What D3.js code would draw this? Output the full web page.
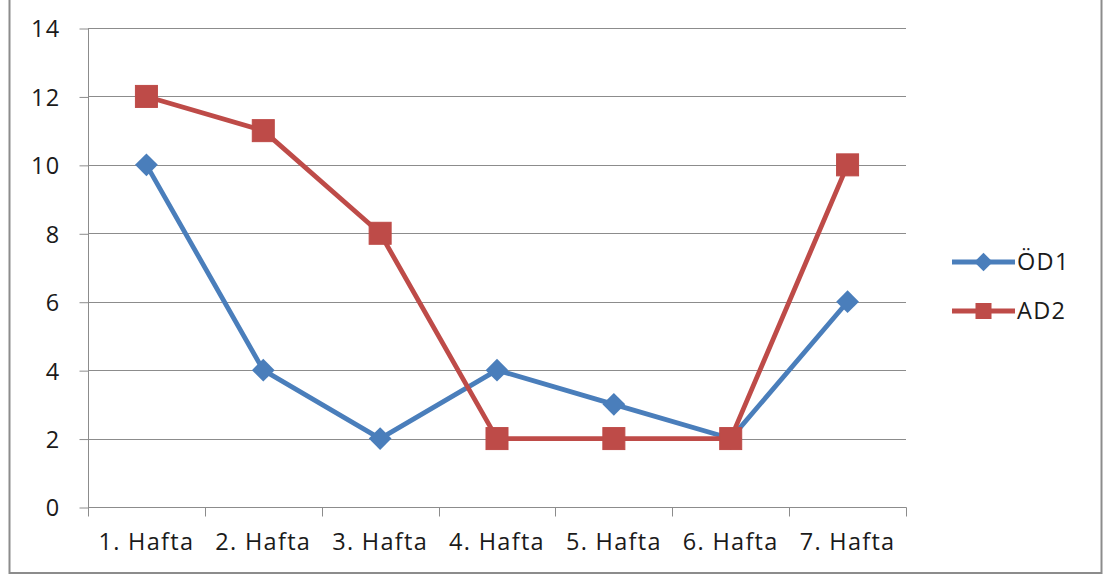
<!DOCTYPE html>
<html>
<head>
<meta charset="utf-8">
<script src="https://cdn.jsdelivr.net/npm/d3@7"></script>
<style>
  html, body { margin: 0; padding: 0; background: #fff; }
  svg { display: block; }
  text { font-family: "Open Sans", "Noto Sans", sans-serif; fill: #1a1a1a; }
</style>
</head>
<body>
<svg id="chart" width="1105" height="575"></svg>
<script>
const categories = ["1. Hafta", "2. Hafta", "3. Hafta", "4. Hafta", "5. Hafta", "6. Hafta", "7. Hafta"];
const od1 = [10, 4, 2, 4, 3, 2, 6];
const ad2 = [12, 11, 8, 2, 2, 2, 10];
const yTicks = [0, 2, 4, 6, 8, 10, 12, 14];
const seriesNames = ["ÖD1", "AD2"];
const seriesColors = ["#4A7EBB", "#BE4B48"];

const FONT_SIZE = "23.5px";
const LETTER_SPACING = "1.3px";

const svg = d3.select("#chart");

// outer frame
svg.append("rect")
  .attr("x", 9.5).attr("y", -2).attr("width", 1092).attr("height", 575)
  .attr("fill", "none").attr("stroke", "#8c8c8c").attr("stroke-width", 2);

const plot = { left: 88, right: 906, top: 28, bottom: 507 };

const x = d3.scaleBand().domain(categories).range([plot.left, plot.right]);
const y = d3.scaleLinear().domain([0, 14]).range([plot.bottom, plot.top]);

// horizontal gridlines
svg.append("g").selectAll("line").data(yTicks.filter(d => d > 0)).join("line")
  .attr("x1", plot.left).attr("x2", plot.right)
  .attr("y1", d => Math.round(y(d)) + 0.5).attr("y2", d => Math.round(y(d)) + 0.5)
  .attr("stroke", "#8c8c8c").attr("stroke-width", 1);

// y axis
const yAxis = d3.axisLeft(y).tickValues(yTicks).tickSize(9).tickPadding(19);
const gy = svg.append("g").attr("transform", `translate(${plot.left + 0.5},0.5)`).call(yAxis);
gy.selectAll("path, line").attr("stroke", "#8c8c8c");
gy.selectAll("text").style("font-size", FONT_SIZE).style("letter-spacing", LETTER_SPACING)
  .attr("fill", "#1a1a1a").attr("dy", "0.36em");
gy.select(".domain").attr("d", `M0,${plot.top}V${plot.bottom}`);

// x axis with ticks on category boundaries
const gx = svg.append("g").attr("transform", `translate(0,${plot.bottom + 0.5})`);
gx.append("line").attr("x1", plot.left).attr("x2", plot.right + 0.5)
  .attr("stroke", "#8c8c8c");
const bounds = categories.map(c => x(c)).concat([plot.right]);
gx.selectAll("line.tick").data(bounds).join("line").attr("class", "tick")
  .attr("x1", d => Math.round(d) + 0.5).attr("x2", d => Math.round(d) + 0.5)
  .attr("y1", 0).attr("y2", 9).attr("stroke", "#8c8c8c");
gx.selectAll("text").data(categories).join("text")
  .attr("x", d => x(d) + x.bandwidth() / 2).attr("y", 42)
  .attr("text-anchor", "middle").style("font-size", FONT_SIZE)
  .style("letter-spacing", LETTER_SPACING).text(d => d);

const cx = c => x(c) + x.bandwidth() / 2;
const line = d3.line().x((d, i) => cx(categories[i])).y(d => y(d));

function drawSeries(values, color, isSquare) {
  svg.append("path").datum(values).attr("d", line)
    .attr("fill", "none").attr("stroke", color).attr("stroke-width", 4.8)
    .attr("stroke-linejoin", "round");
  const g = svg.append("g");
  values.forEach((v, i) => {
    const px = cx(categories[i]), py = y(v);
    if (isSquare) {
      g.append("rect").attr("x", px - 11).attr("y", py - 11).attr("width", 22).attr("height", 22)
        .attr("fill", color).attr("stroke", color).attr("stroke-width", 1);
    } else {
      g.append("path").attr("d", d3.symbol().type(d3.symbolSquare).size(260)())
        .attr("transform", `translate(${px},${py}) rotate(45)`)
        .attr("fill", color);
    }
  });
}

drawSeries(od1, seriesColors[0], false);
drawSeries(ad2, seriesColors[1], true);

// legend
const legend = svg.append("g");
seriesNames.forEach((name, i) => {
  const ly = 262 + i * 49;
  legend.append("line").attr("x1", 952).attr("x2", 1015).attr("y1", ly).attr("y2", ly)
    .attr("stroke", seriesColors[i]).attr("stroke-width", 4.8);
  if (i === 0) {
    legend.append("path").attr("d", d3.symbol().type(d3.symbolSquare).size(170)())
      .attr("transform", `translate(983.5,${ly}) rotate(45)`).attr("fill", seriesColors[i]);
  } else {
    legend.append("rect").attr("x", 975.5).attr("y", ly - 8).attr("width", 16).attr("height", 16)
      .attr("fill", seriesColors[i]);
  }
  legend.append("text").attr("x", 1017).attr("y", ly).attr("dy", "0.36em")
    .style("font-size", FONT_SIZE).style("letter-spacing", LETTER_SPACING).text(name);
});
</script>
</body>
</html>
